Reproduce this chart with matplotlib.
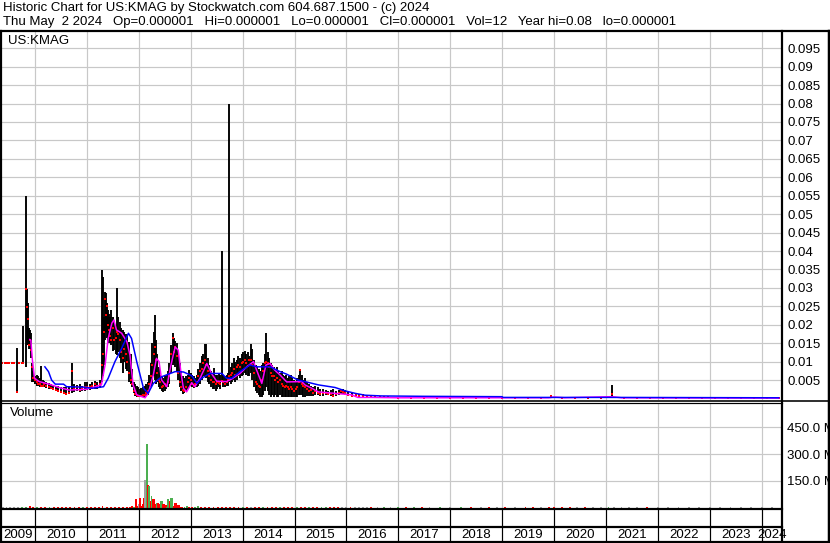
import matplotlib
matplotlib.use("Agg")
import matplotlib.pyplot as plt
from matplotlib.lines import Line2D

plt.rcParams['font.family'] = ['Liberation Sans', 'DejaVu Sans']

W, H = 830, 543

# ---------------- text ----------------
title_line1 = "Historic Chart for US:KMAG by Stockwatch.com 604.687.1500 - (c) 2024"
title_line2 = ("Thu May  2 2024   Op=0.000001   Hi=0.000001   Lo=0.000001   "
               "Cl=0.000001   Vol=12   Year hi=0.08   lo=0.000001")
ticker = "US:KMAG"
years = list(range(2009, 2025))
price_ticks = [0.005, 0.01, 0.015, 0.02, 0.025, 0.03, 0.035, 0.04, 0.045, 0.05,
               0.055, 0.06, 0.065, 0.07, 0.075, 0.08, 0.085, 0.09, 0.095]
vol_ticks = [150, 300, 450]
vol_tick_labels = ["150.0 M", "300.0 M", "450.0 M"]

# ---------------- price bars (decimal year, high, low, close) ----------------
bar_date = [2009.37, 2009.42, 2009.46, 2009.50, 2009.55, 2009.60, 2009.65, 2009.70, 2009.74, 2009.77,
            2009.82, 2009.84, 2009.86, 2009.88, 2009.90, 2009.92, 2009.95, 2009.97, 2010.00,
            2010.03, 2010.06, 2010.09, 2010.12, 2010.15, 2010.18, 2010.22, 2010.26, 2010.30, 2010.35,
            2010.40, 2010.45, 2010.50, 2010.55, 2010.60, 2010.65, 2010.71, 2010.76, 2010.81, 2010.86,
            2010.91, 2010.96, 2011.00, 2011.05, 2011.10, 2011.15, 2011.20, 2011.25,
            2011.29, 2011.31, 2011.33, 2011.35, 2011.37, 2011.39, 2011.41, 2011.43, 2011.45, 2011.47,
            2011.50, 2011.53, 2011.56, 2011.58, 2011.60, 2011.63, 2011.66, 2011.69, 2011.72, 2011.75,
            2011.78, 2011.81, 2011.84, 2011.87, 2011.90, 2011.93, 2011.96, 2011.99, 2012.02, 2012.05,
            2012.08, 2012.11, 2012.14, 2012.17,
            2012.20, 2012.23, 2012.26, 2012.29, 2012.31, 2012.33, 2012.35, 2012.38, 2012.41, 2012.44,
            2012.47, 2012.50, 2012.53, 2012.56, 2012.59, 2012.62, 2012.65, 2012.67, 2012.70, 2012.73,
            2012.76, 2012.79, 2012.82, 2012.85, 2012.88, 2012.91, 2012.94, 2012.97, 2013.00,
            2013.03, 2013.06, 2013.09, 2013.12, 2013.15, 2013.18, 2013.21, 2013.24, 2013.27, 2013.30,
            2013.33, 2013.36, 2013.39, 2013.42, 2013.45, 2013.48, 2013.51, 2013.54, 2013.57, 2013.60,
            2013.63, 2013.66, 2013.69, 2013.72, 2013.74, 2013.77, 2013.80, 2013.83, 2013.86, 2013.89,
            2013.92, 2013.95, 2013.98, 2014.01, 2014.04, 2014.07, 2014.10, 2014.13, 2014.16, 2014.19,
            2014.22, 2014.25, 2014.28, 2014.31, 2014.34, 2014.37, 2014.40, 2014.43, 2014.45, 2014.48,
            2014.51, 2014.54, 2014.57, 2014.60, 2014.63, 2014.66, 2014.69, 2014.72, 2014.75, 2014.78,
            2014.81, 2014.84, 2014.87, 2014.90,
            2014.93, 2014.96, 2014.99, 2015.02, 2015.05, 2015.08, 2015.11, 2015.14, 2015.17, 2015.20,
            2015.24, 2015.28, 2015.32, 2015.36, 2015.40, 2015.45, 2015.50, 2015.55, 2015.60, 2015.65,
            2015.70, 2015.75, 2015.80, 2015.86, 2015.90, 2015.94, 2015.98, 2016.04, 2016.10, 2016.18,
            2016.25, 2016.32, 2016.40, 2016.48, 2016.56, 2016.64, 2016.72, 2016.80,
            2017.00, 2017.25, 2017.50, 2017.75, 2018.00, 2018.25, 2018.50, 2018.75, 2019.00, 2019.25,
            2019.50, 2019.75, 2019.94, 2020.15, 2020.40, 2020.65, 2020.90, 2021.12, 2021.35, 2021.60,
            2021.85, 2022.10, 2022.35, 2022.60, 2022.85, 2023.10, 2023.35, 2023.60, 2023.85, 2024.10,
            2024.33]
bar_high = [0.0095, 0.0095, 0.0095, 0.0095, 0.0095, 0.0095, 0.0137, 0.0095, 0.0095, 0.0196,
            0.055, 0.0297, 0.026, 0.019, 0.0186, 0.0178, 0.0095, 0.0075, 0.006,
            0.0065, 0.006, 0.0055, 0.0088, 0.005, 0.0048, 0.0045, 0.0042, 0.004, 0.0038,
            0.0035, 0.0035, 0.003, 0.003, 0.003, 0.0032, 0.0095, 0.004, 0.0038, 0.004,
            0.0035, 0.0045, 0.0046, 0.004, 0.0045, 0.0048, 0.0045, 0.005,
            0.0348, 0.033, 0.022, 0.029, 0.0285, 0.026, 0.024, 0.023, 0.022, 0.024,
            0.022, 0.021, 0.020, 0.0299, 0.022, 0.0208, 0.019, 0.0185, 0.018, 0.0175,
            0.017, 0.0154, 0.012, 0.008, 0.0045, 0.004, 0.0035, 0.003, 0.0025, 0.0028,
            0.003, 0.0035, 0.004, 0.0045,
            0.0065, 0.0096, 0.015, 0.018, 0.0226, 0.016, 0.012, 0.0085, 0.0065, 0.006,
            0.0055, 0.006, 0.0065, 0.0075, 0.0095, 0.0145, 0.0178, 0.0165, 0.0155, 0.015,
            0.0125, 0.0095, 0.0075, 0.006, 0.0055, 0.006, 0.0065, 0.0077, 0.007,
            0.0065, 0.006, 0.0055, 0.0065, 0.008, 0.0095, 0.0115, 0.012, 0.0148, 0.0148,
            0.011, 0.009, 0.0075, 0.007, 0.0083, 0.0065, 0.0065, 0.007, 0.0065, 0.040,
            0.0065, 0.006, 0.0065, 0.007, 0.080, 0.0085, 0.0095, 0.011, 0.010, 0.0105,
            0.0115, 0.011, 0.012, 0.0125, 0.013, 0.012, 0.0125, 0.0115, 0.0148, 0.0135,
            0.0105, 0.009, 0.0085, 0.008, 0.0075, 0.009, 0.0095, 0.012, 0.0178, 0.0125,
            0.011, 0.0095, 0.009, 0.0085, 0.008, 0.0085, 0.0075, 0.007, 0.0075, 0.0065,
            0.006, 0.0065, 0.0055, 0.006,
            0.0065, 0.0055, 0.005, 0.0045, 0.0055, 0.0065, 0.0077, 0.0065, 0.005, 0.0055,
            0.0045, 0.004, 0.0035, 0.003, 0.0035, 0.003, 0.0025, 0.0025, 0.0022, 0.002,
            0.0022, 0.0026, 0.002, 0.0022, 0.0026, 0.0025, 0.0022, 0.0018, 0.0015, 0.0015,
            0.0012, 0.0012, 0.001, 0.001, 0.0008, 0.0008, 0.0007, 0.0006,
            0.0004, 0.0003, 0.0003, 0.0003, 0.0003, 0.0003, 0.0002, 0.0003, 0.0002, 0.0002,
            0.0003, 0.0002, 0.0008, 0.0003, 0.0002, 0.0003, 0.0002, 0.0037, 0.0003, 0.0002,
            0.0002, 0.0002, 0.0002, 0.0002, 0.0002, 0.0002, 0.0002, 0.0002, 0.0002, 0.0002,
            0.0002]
bar_low = [0.0095, 0.0095, 0.0095, 0.0095, 0.0095, 0.0095, 0.0018, 0.0095, 0.0095, 0.0095,
           0.0086, 0.0145, 0.0145, 0.0135, 0.0133, 0.011, 0.0045, 0.0045, 0.004,
           0.0035, 0.0035, 0.003, 0.003, 0.003, 0.003, 0.0028, 0.0025, 0.0025, 0.0022,
           0.002, 0.0018, 0.0015, 0.0012, 0.0012, 0.0012, 0.0015, 0.0018, 0.002, 0.0018,
           0.002, 0.002, 0.0022, 0.0022, 0.0025, 0.0025, 0.0025, 0.0028,
           0.0046, 0.006, 0.009, 0.016, 0.018, 0.0165, 0.015, 0.0164, 0.015, 0.0145,
           0.013, 0.0132, 0.012, 0.0118, 0.0125, 0.011, 0.0096, 0.0069, 0.010, 0.008,
           0.0075, 0.0045, 0.004, 0.003, 0.0015, 0.0008, 0.0005, 0.0003, 0.0003, 0.0003,
           0.0005, 0.0005, 0.0008, 0.001,
           0.002, 0.003, 0.004, 0.006, 0.005, 0.004, 0.0045, 0.003, 0.0025, 0.002,
           0.0018, 0.002, 0.0025, 0.003, 0.004, 0.0068, 0.009, 0.0095, 0.0085, 0.0075,
           0.005, 0.003, 0.002, 0.0013, 0.0015, 0.002, 0.0025, 0.003, 0.0035,
           0.003, 0.0028, 0.003, 0.003, 0.0035, 0.004, 0.005, 0.006, 0.006, 0.0055,
           0.0046, 0.004, 0.003, 0.0025, 0.0025, 0.002, 0.0025, 0.003, 0.0025, 0.0045,
           0.003, 0.003, 0.0035, 0.0035, 0.0045, 0.004, 0.0045, 0.005, 0.0045, 0.005,
           0.006, 0.0055, 0.006, 0.0065, 0.007, 0.0065, 0.006, 0.006, 0.007, 0.005,
           0.003, 0.002, 0.0015, 0.001, 0.0005, 0.0005, 0.001, 0.002, 0.003, 0.002,
           0.001, 0.0005, 0.001, 0.0005, 0.001, 0.0005, 0.0005, 0.001, 0.0005, 0.0005,
           0.0003, 0.0005, 0.0003, 0.0003,
           0.0003, 0.0003, 0.0003, 0.0005, 0.0005, 0.001, 0.001, 0.001, 0.0005, 0.0005,
           0.0008, 0.0008, 0.0008, 0.0008, 0.001, 0.001, 0.0008, 0.0008, 0.001, 0.001,
           0.0008, 0.0008, 0.0008, 0.001, 0.0013, 0.0012, 0.001, 0.0008, 0.0006, 0.0006,
           0.0005, 0.0005, 0.0004, 0.0004, 0.0003, 0.0003, 0.0003, 0.0002,
           0.0001, 0.0001, 0.0001, 0.0001, 0.0001, 0.0001, 0.0001, 0.0001, 0.0001, 0.0001,
           0.0001, 0.0001, 0.0001, 0.0001, 0.0001, 0.0001, 0.0001, 0.0001, 0.0001, 0.0001,
           0.0001, 0.0001, 0.0001, 0.0001, 0.0001, 0.0001, 0.0001, 0.0001, 0.0001, 0.0001,
           0.0001]
bar_close = [0.0095, 0.0095, 0.0095, 0.0095, 0.0095, 0.0095, 0.0018, 0.0095, 0.0095, 0.0095,
             0.0297, 0.0249, 0.0217, 0.0145, 0.016, 0.0131, 0.0085, 0.0055, 0.005,
             0.0045, 0.004, 0.004, 0.0035, 0.0035, 0.004, 0.0033, 0.003, 0.0028, 0.0025,
             0.0022, 0.002, 0.0018, 0.0015, 0.0013, 0.0015, 0.0075, 0.0025, 0.003, 0.0022,
             0.0028, 0.003, 0.0032, 0.003, 0.0035, 0.004, 0.0035, 0.004,
             0.0092, 0.012, 0.018, 0.027, 0.0226, 0.025, 0.02, 0.0185, 0.017, 0.016,
             0.019, 0.016, 0.0165, 0.018, 0.0176, 0.016, 0.0125, 0.011, 0.0135, 0.012,
             0.010, 0.007, 0.005, 0.004, 0.002, 0.0012, 0.001, 0.0008, 0.0006, 0.0008,
             0.001, 0.001, 0.0015, 0.002,
             0.004, 0.006, 0.009, 0.012, 0.014, 0.0105, 0.007, 0.005, 0.0045, 0.003,
             0.0035, 0.004, 0.0035, 0.0045, 0.006, 0.012, 0.0165, 0.0125, 0.014, 0.0115,
             0.007, 0.0045, 0.003, 0.0022, 0.002, 0.003, 0.0045, 0.0055, 0.005,
             0.004, 0.0035, 0.004, 0.0045, 0.006, 0.0075, 0.008, 0.0095, 0.0105, 0.009,
             0.0075, 0.006, 0.005, 0.0045, 0.0045, 0.004, 0.0045, 0.0042, 0.004, 0.0048,
             0.0045, 0.004, 0.0045, 0.005, 0.006, 0.0065, 0.007, 0.008, 0.0065, 0.0085,
             0.009, 0.0085, 0.0095, 0.010, 0.0105, 0.0095, 0.0088, 0.0105, 0.0105, 0.009,
             0.007, 0.0045, 0.004, 0.0035, 0.003, 0.005, 0.0075, 0.0095, 0.010, 0.0095,
             0.0085, 0.007, 0.006, 0.006, 0.005, 0.0055, 0.0045, 0.005, 0.004, 0.0035,
             0.003, 0.0035, 0.003, 0.0025,
             0.003, 0.0025, 0.002, 0.0025, 0.003, 0.0045, 0.0077, 0.004, 0.0035, 0.003,
             0.0025, 0.002, 0.0022, 0.0015, 0.002, 0.0015, 0.0012, 0.0015, 0.0015, 0.0013,
             0.0012, 0.0008, 0.0012, 0.0015, 0.002, 0.0018, 0.0015, 0.001, 0.0008, 0.001,
             0.0008, 0.0006, 0.0005, 0.0005, 0.0004, 0.0004, 0.0003, 0.0003,
             0.0002, 0.0002, 0.0002, 0.0002, 0.0002, 0.0002, 0.0001, 0.0002, 0.0001, 0.0001,
             0.0002, 0.0001, 0.0006, 0.0002, 0.0001, 0.0002, 0.0001, 0.0012, 0.0002, 0.0001,
             0.0001, 0.0001, 0.0001, 0.0001, 0.0001, 0.0001, 0.0001, 0.0001, 0.0001, 0.0001,
             0.0001]

# ---------------- moving averages ----------------
ma_short_date = [2009.90, 2009.92, 2009.95, 2009.99, 2010.08, 2010.27, 2010.46, 2010.66, 2010.98, 2011.16,
                 2011.28, 2011.35, 2011.41, 2011.48, 2011.52, 2011.57, 2011.67, 2011.77, 2011.83, 2011.89,
                 2011.96, 2012.12, 2012.18, 2012.28, 2012.34, 2012.39, 2012.44, 2012.54, 2012.62, 2012.70,
                 2012.76, 2012.81, 2012.86, 2012.92, 2013.02, 2013.08, 2013.18, 2013.31, 2013.40, 2013.50,
                 2013.69, 2013.79, 2013.95, 2014.08, 2014.21, 2014.27, 2014.37, 2014.45, 2014.53, 2014.62,
                 2014.72, 2014.85, 2015.14, 2015.20, 2015.33, 2015.46, 2015.78, 2016.10, 2016.22, 2016.50,
                 2017.00, 2019.90, 2020.00, 2020.20, 2021.12, 2021.30, 2024.33]
ma_short_val = [0.016, 0.0158, 0.0104, 0.0055, 0.0046, 0.0039, 0.003, 0.0023, 0.0025, 0.0032,
                0.0037, 0.0091, 0.0163, 0.0204, 0.0213, 0.0186, 0.0177, 0.0154, 0.0118, 0.0037,
                0.001, 0.0002, 0.0014, 0.0064, 0.0109, 0.010, 0.005, 0.0032, 0.0091, 0.014,
                0.0131, 0.0073, 0.0028, 0.0018, 0.0043, 0.0032, 0.0055, 0.0095, 0.0068, 0.0047,
                0.0046, 0.0053, 0.0068, 0.0086, 0.010, 0.0077, 0.0041, 0.0091, 0.0095, 0.0077,
                0.0064, 0.0045, 0.0046, 0.0037, 0.0028, 0.0018, 0.0014, 0.001, 0.0003, 0.0003,
                0.0002, 0.0002, 0.0004, 0.0002, 0.0005, 0.0002, 0.0001]
ma_long_date = [2010.19, 2010.26, 2010.32, 2010.39, 2010.55, 2010.61, 2010.93, 2011.12, 2011.32, 2011.41,
                2011.54, 2011.67, 2011.80, 2011.86, 2011.96, 2012.09, 2012.18, 2012.28, 2012.44, 2012.70,
                2012.86, 2013.02, 2013.12, 2013.21, 2013.37, 2013.60, 2013.69, 2013.79, 2013.95, 2014.14,
                2014.27, 2014.53, 2014.72, 2014.85, 2015.07, 2015.20, 2015.46, 2015.78, 2015.97, 2016.17,
                2016.36, 2016.68, 2017.48, 2019.00, 2019.02, 2020.00, 2021.20, 2024.33]
ma_long_val = [0.0086, 0.0073, 0.005, 0.0039, 0.0039, 0.0032, 0.0031, 0.0028, 0.0032, 0.0055,
               0.010, 0.0136, 0.0177, 0.0163, 0.010, 0.0028, 0.0014, 0.0041, 0.0059, 0.0073,
               0.0072, 0.0062, 0.0041, 0.0055, 0.0068, 0.0068, 0.0055, 0.0055, 0.0073, 0.0091,
               0.0086, 0.0086, 0.0073, 0.0066, 0.005, 0.0046, 0.0037, 0.003, 0.0021, 0.0014,
               0.0009, 0.0007, 0.0006, 0.0005, 0.0003, 0.0003, 0.0003, 0.0002]

# ---------------- volume (millions) ----------------
vol_date = [2009.38, 2009.45, 2009.52, 2009.60, 2009.68, 2009.75, 2009.83, 2009.90, 2009.96, 2010.04,
            2010.12, 2010.20, 2010.28, 2010.36, 2010.44, 2010.52, 2010.60, 2010.68, 2010.76, 2010.84,
            2010.92, 2011.00, 2011.08, 2011.16, 2011.24, 2011.30, 2011.38, 2011.46, 2011.54, 2011.62,
            2011.70, 2011.78, 2011.83, 2011.87, 2011.90,
            2011.94, 2011.97, 2012.00, 2012.02, 2012.05, 2012.07, 2012.09, 2012.125, 2012.155, 2012.175,
            2012.20, 2012.225, 2012.245, 2012.27, 2012.295, 2012.32, 2012.34, 2012.365, 2012.39, 2012.42,
            2012.445, 2012.47, 2012.495, 2012.52, 2012.545, 2012.57, 2012.595, 2012.62, 2012.645, 2012.67,
            2012.695, 2012.72, 2012.745, 2012.77, 2012.80, 2012.84, 2012.88, 2012.93, 2012.97,
            2013.02, 2013.08, 2013.14, 2013.20, 2013.28, 2013.36, 2013.44, 2013.52, 2013.60, 2013.68,
            2013.76, 2013.84, 2013.92, 2014.00, 2014.08, 2014.16, 2014.24, 2014.32, 2014.40, 2014.48,
            2014.56, 2014.64, 2014.72, 2014.80, 2014.88, 2014.96, 2015.04, 2015.12, 2015.20, 2015.28,
            2015.36, 2015.44, 2015.52, 2015.60, 2015.68, 2015.76, 2015.84, 2015.92, 2016.00, 2016.08,
            2016.16, 2016.24, 2016.32, 2016.40, 2016.48, 2016.60, 2016.72, 2016.85, 2017.00, 2017.15,
            2017.30, 2017.45, 2017.60, 2017.80, 2018.00, 2018.20, 2018.40, 2018.60, 2018.75, 2018.90,
            2019.05, 2019.25, 2019.45, 2019.60, 2019.75, 2019.90, 2020.00, 2020.15, 2020.30, 2020.45,
            2020.60, 2020.75, 2020.90, 2021.05, 2021.15, 2021.30, 2021.45, 2021.60, 2021.80, 2022.00,
            2022.20, 2022.40, 2022.60, 2022.80, 2023.00, 2023.20, 2023.40, 2023.60, 2023.80, 2024.00,
            2024.20]
vol_value = [3, 3, 3, 3, 3, 3, 4, 7, 4, 3,
             3, 2, 2, 2, 2, 3, 2, 2, 3, 2,
             2, 2, 3, 2, 3, 7, 3, 3, 3, 3,
             4, 4, 3, 7, 4,
             50, 8, 17, 56, 10, 17, 56, 157, 359, 129,
             123, 36, 65, 50, 50, 20, 27, 27, 17, 36,
             36, 20, 17, 12, 5, 46, 36, 52, 52, 8,
             27, 27, 15, 15, 5, 4, 4, 8, 3,
             3, 4, 8, 3, 3, 4, 3, 3, 3, 3,
             3, 4, 3, 3, 3, 4, 3, 3, 3, 3,
             3, 3, 3, 3, 3, 3, 3, 3, 3, 3,
             2, 2, 2, 2, 3, 2, 2, 2, 2, 2,
             2, 2, 2, 2, 2, 2, 4, 2, 3, 2,
             2, 2, 2, 2, 2, 2, 2, 2, 3, 2,
             2, 2, 3, 3, 2, 3, 3, 3, 3, 3,
             3, 3, 3, 5, 3, 3, 3, 2, 2, 2,
             2, 2, 2, 2, 2, 2, 2, 2, 2, 2,
             2]
vol_kind = ['k', 'k', 'k', 'k', 'k', 'g', 'g', 'r', 'r', 'g',
            'r', 'r', 'g', 'r', 'r', 'r', 'r', 'r', 'r', 'r',
            'g', 'r', 'r', 'r', 'r', 'r', 'r', 'r', 'r', 'r',
            'r', 'r', 'r', 'r', 'g',
            'r', 'r', 'k', 'r', 'r', 'r', 'r', 'k', 'g', 'r',
            'g', 'r', 'g', 'r', 'r', 'r', 'g', 'r', 'r', 'g',
            'g', 'r', 'r', 'r', 'g', 'g', 'r', 'g', 'g', 'r',
            'r', 'r', 'r', 'r', 'r', 'r', 'g', 'g', 'r',
            'r', 'g', 'g', 'r', 'r', 'r', 'r', 'r', 'r', 'r',
            'r', 'r', 'r', 'g', 'r', 'k', 'r', 'r', 'g', 'r',
            'r', 'r', 'g', 'r', 'r', 'r', 'g', 'r', 'r', 'g',
            'r', 'r', 'g', 'g', 'r', 'r', 'r', 'k', 'k', 'r',
            'k', 'k', 'k', 'k', 'r', 'k', 'g', 'k', 'g', 'r',
            'g', 'r', 'k', 'g', 'k', 'g', 'r', 'k', 'r', 'k',
            'r', 'k', 'r', 'r', 'k', 'r', 'r', 'r', 'r', 'k',
            'r', 'k', 'k', 'g', 'k', 'k', 'k', 'k', 'r', 'k',
            'k', 'k', 'k', 'k', 'k', 'k', 'k', 'k', 'k', 'k',
            'k']
vol_palette = {'r': '#ff0000', 'g': '#4caf50', 'k': '#a0a0a0'}

# ---------------- figure ----------------
fig = plt.figure(figsize=(W / 100, H / 100), dpi=100)
fig.patch.set_facecolor('white')


def rect(x0, y0, x1, y1):
    return [x0 / W, 1 - y1 / H, (x1 - x0) / W, (y1 - y0) / H]


def px(lw_px):
    return lw_px * 0.72


X0, X1 = 2009.364, 2024.393
GRID = '#c8c8c8'
FS = 9.5

# price panel
axp = fig.add_axes(rect(2, 32, 782, 400))
axp.set_xlim(X0, X1)
axp.set_ylim(-0.0004, 0.0994)
axp.set_xticks(years[1:])
axp.set_yticks(price_ticks)
axp.set_yticklabels([f"{v:g}" for v in price_ticks])
axp.yaxis.tick_right()
axp.tick_params(axis='y', length=0, pad=3.6, labelsize=FS)
axp.tick_params(axis='x', length=0, labelbottom=False)
axp.grid(True, color=GRID, lw=px(1.2))
axp.set_axisbelow(True)
for s in axp.spines.values():
    s.set_visible(False)
axp.vlines(bar_date, bar_low, bar_high, color='black', lw=px(1.9), zorder=3)
axp.plot(bar_date, bar_close, 's', color='#ff0000', ms=2.0, mew=0, zorder=4)
axp.plot(ma_short_date, ma_short_val, color='#ff00ff', lw=px(1.5), zorder=5)
axp.plot(ma_long_date, ma_long_val, color='#0000ff', lw=px(1.5), zorder=6)
fig.text(8 / W, 1 - 41 / H, ticker, fontsize=FS, va='center', ha='left')

# volume panel
axv = fig.add_axes(rect(2, 403, 782, 509))
axv.set_xlim(X0, X1)
axv.set_ylim(-8.4, 587)
axv.set_xticks(years[1:])
axv.set_yticks(vol_ticks)
axv.set_yticklabels(vol_tick_labels)
axv.yaxis.tick_right()
axv.tick_params(axis='y', length=0, pad=3.6, labelsize=FS)
axv.tick_params(axis='x', length=0, labelbottom=False)
axv.grid(True, color=GRID, lw=px(1.2))
axv.set_axisbelow(True)
for s in axv.spines.values():
    s.set_visible(False)
axv.bar(vol_date, vol_value, width=0.036, color=[vol_palette[k] for k in vol_kind],
        linewidth=0, zorder=3)
fig.text(10 / W, 1 - 413 / H, "Volume", fontsize=FS, va='center', ha='left')

# header
fig.text(3 / W, 1 - 8 / H, title_line1, fontsize=FS, va='center', ha='left')
fig.text(3 / W, 1 - 22 / H, title_line2, fontsize=FS, va='center', ha='left')


def hline(y, x0, x1, lw):
    fig.add_artist(Line2D([x0 / W, x1 / W], [1 - y / H, 1 - y / H],
                          transform=fig.transFigure, color='black', lw=px(lw)))


def vline(x, y0, y1, lw):
    fig.add_artist(Line2D([x / W, x / W], [1 - y0 / H, 1 - y1 / H],
                          transform=fig.transFigure, color='black', lw=px(lw)))


# date strip: year separators and labels
def year_to_px(yr):
    return 2 + (yr - X0) / (X1 - X0) * 780


for yr in years[1:]:
    vline(year_to_px(yr), 509, 541, 1.2)
for yr in years:
    a = max(yr, X0)
    b = min(yr + 1, X1)
    cx = (year_to_px(a) + year_to_px(b)) / 2
    fig.text(cx / W, 1 - 535 / H, str(yr), fontsize=FS, va='center', ha='center')

# borders
hline(31, 0, 830, 2.2)
hline(400.5, 0, 830, 1.6)
hline(403, 0, 782, 1.2)
hline(509, 0, 782, 2.2)
hline(527, 0, 782, 2.2)
hline(541.5, 0, 830, 2.2)
vline(1, 31, 543, 2.2)
vline(782, 31, 543, 2.2)
vline(828.5, 31, 543, 2.5)

fig.savefig("out.png", dpi=100, facecolor='white')
